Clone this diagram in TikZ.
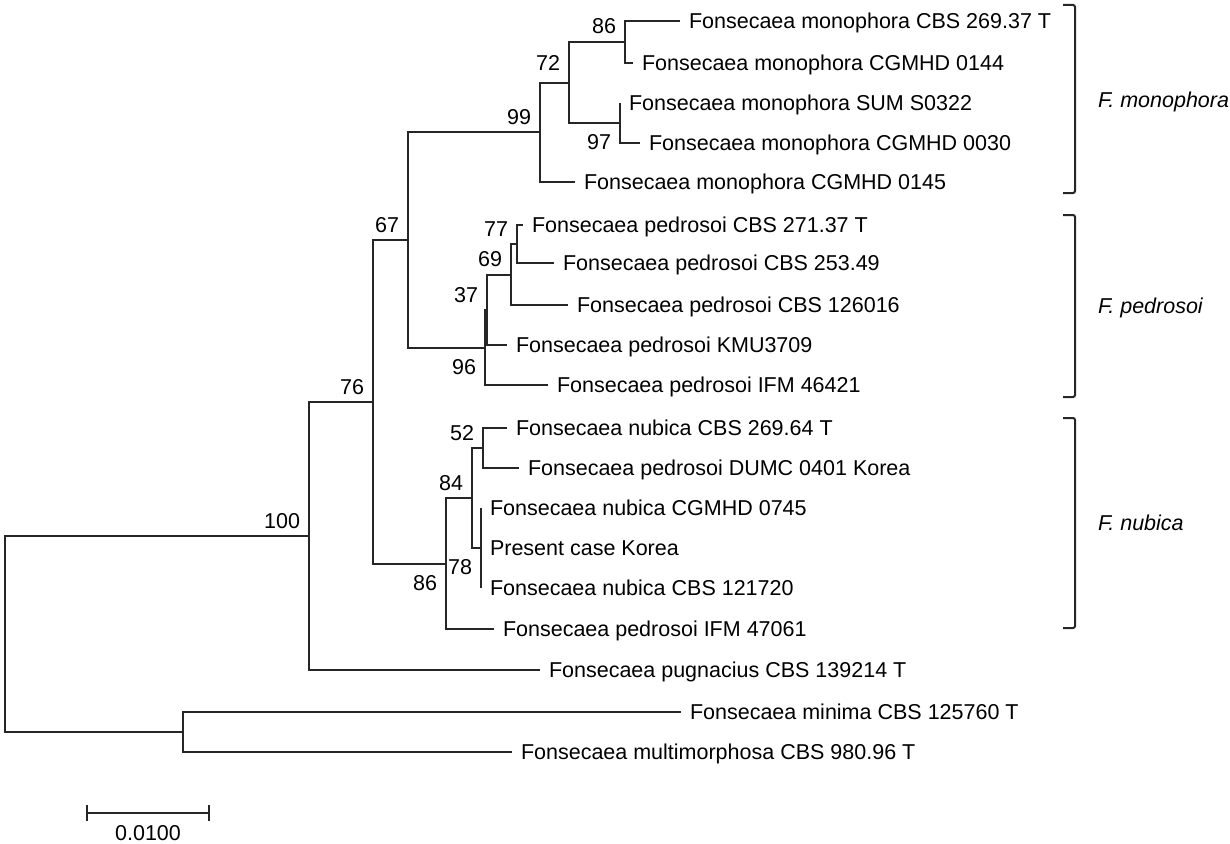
\documentclass[tikz,border=0pt]{standalone}
\usepackage{fontspec}
\setmainfont{Liberation Sans}

\begin{document}
\begin{tikzpicture}[x=1pt, y=-1pt, line width=2pt, draw=black!85,
		every node/.style={font=\fontsize{21.5}{25}\selectfont, text height=15.5pt, text depth=0pt},
		leaf/.style={anchor=west, inner xsep=8pt, inner ysep=0pt},
		bsup/.style={anchor=south east, inner sep=0pt, xshift=-8pt, yshift=7pt},
		bsdown/.style={anchor=north east, inner sep=0pt, xshift=-8pt, yshift=-10pt},
		clade/.style={anchor=west, inner sep=0pt, font=\fontsize{21.5}{25}\selectfont\itshape}]
		\useasboundingbox (0,0) rectangle (1230,843);
		% taxa
		\node[leaf] (mo1) at (680,21) {Fonsecaea monophora CBS 269.37 T};
		\node[leaf] (mo2) at (633,63) {Fonsecaea monophora CGMHD 0144};
		\node[leaf] (mo3) at (620,103) {Fonsecaea monophora SUM S0322};
		\node[leaf] (mo4) at (640,143) {Fonsecaea monophora CGMHD 0030};
		\node[leaf] (mo5) at (575,182) {Fonsecaea monophora CGMHD 0145};
		\node[leaf] (pe1) at (523,225) {Fonsecaea pedrosoi CBS 271.37 T};
		\node[leaf] (pe2) at (554,263) {Fonsecaea pedrosoi CBS 253.49};
		\node[leaf] (pe3) at (568,305) {Fonsecaea pedrosoi CBS 126016};
		\node[leaf] (pe4) at (507,345) {Fonsecaea pedrosoi KMU3709};
		\node[leaf] (pe5) at (548,385) {Fonsecaea pedrosoi IFM 46421};
		\node[leaf] (nu1) at (507,428) {Fonsecaea nubica CBS 269.64 T};
		\node[leaf] (nu2) at (519,468) {Fonsecaea pedrosoi DUMC 0401 Korea};
		\node[leaf] (nu3) at (481,508) {Fonsecaea nubica CGMHD 0745};
		\node[leaf] (nu4) at (481,548) {Present case Korea};
		\node[leaf] (nu5) at (481,588) {Fonsecaea nubica CBS 121720};
		\node[leaf] (nu6) at (494,629) {Fonsecaea pedrosoi IFM 47061};
		\node[leaf] (pug) at (540,670) {Fonsecaea pugnacius CBS 139214 T};
		\node[leaf] (min) at (681,712) {Fonsecaea minima CBS 125760 T};
		\node[leaf] (mul) at (512,752) {Fonsecaea multimorphosa CBS 980.96 T};
		% inner nodes
		\coordinate (b86) at (625,42);
		\coordinate (b97) at (620,123);
		\coordinate (b72) at (569,82.5);
		\coordinate (b99) at (540,132);
		\coordinate (b77) at (517,244);
		\coordinate (b69) at (511,274.5);
		\coordinate (b37) at (487,310);
		\coordinate (b96) at (485,347.5);
		\coordinate (b67) at (408,240);
		\coordinate (b52) at (483,448);
		\coordinate (b78) at (481,548);
		\coordinate (b84) at (472,498);
		\coordinate (b86n) at (446,563.5);
		\coordinate (b76) at (373,402);
		\coordinate (b100) at (309,536);
		\coordinate (bout) at (183,732);
		\coordinate (root) at (5,634);
		% branches
		\draw (b86) |- (mo1.west) (b86) |- (mo2.west);
		\draw (b97) |- (mo3.west) (b97) |- (mo4.west);
		\draw (b72) |- (b86) (b72) |- (b97);
		\draw (b99) |- (b72) (b99) |- (mo5.west);
		\draw (b77) |- (pe1.west) (b77) |- (pe2.west);
		\draw (b69) |- (b77) (b69) |- (pe3.west);
		\draw (b37) |- (b69) (b37) |- (pe4.west);
		\draw (b96) |- (b37) (b96) |- (pe5.west);
		\draw (b67) |- (b99) (b67) |- (b96);
		\draw (b52) |- (nu1.west) (b52) |- (nu2.west);
		\draw (b78) |- (nu3.west) (b78) |- (nu4.west) (b78) |- (nu5.west);
		\draw (b84) |- (b52) (b84) |- (b78);
		\draw (b86n) |- (b84) (b86n) |- (nu6.west);
		\draw (b76) |- (b67) (b76) |- (b86n);
		\draw (b100) |- (b76) (b100) |- (pug.west);
		\draw (bout) |- (min.west) (bout) |- (mul.west);
		\draw (root) |- (b100) (root) |- (bout);
		% bootstrap values
		\node[bsup] (s86) at (b86) {86};
		\node[bsdown] (s97) at (b97) {97};
		\node[bsup, yshift=4pt] (s72) at (b72) {72};
		\node[bsup] (s99) at (b99) {99};
		\node[bsup] (s77) at (b77) {77};
		\node[bsup] (s69) at (b69) {69};
		\node[bsup] (s37) at (b37) {37};
		\node[bsdown] (s96) at (b96) {96};
		\node[bsup] (s67) at (b67) {67};
		\node[bsup] (s52) at (b52) {52};
		\node[bsup] (s84) at (b84) {84};
		\node[bsdown] (s78) at (b78) {78};
		\node[bsdown] (s86n) at (b86n) {86};
		\node[bsup] (s76) at (b76) {76};
		\node[bsup] (s100) at (b100) {100};
		% clades
		\draw [rounded corners=2pt] (1063,5) -- (1075,5) -- (1075,193) -- (1063,193);
		\node[clade] (cmo) at (1097,100) {F. monophora};
		\draw [rounded corners=2pt] (1063,215) -- (1075,215) -- (1075,397) -- (1063,397);
		\node[clade] (cpe) at (1097,306) {F. pedrosoi};
		\draw [rounded corners=2pt] (1063,418) -- (1075,418) -- (1075,628) -- (1063,628);
		\node[clade] (cnu) at (1097,523) {F. nubica};
		% scale bar
		\draw (87,813) -- (209,813);
		\draw (87,805) -- (87,821);
		\draw (209,805) -- (209,821);
		\node (sbar) at (148,833) {0.0100};
\end{tikzpicture}
\end{document}
